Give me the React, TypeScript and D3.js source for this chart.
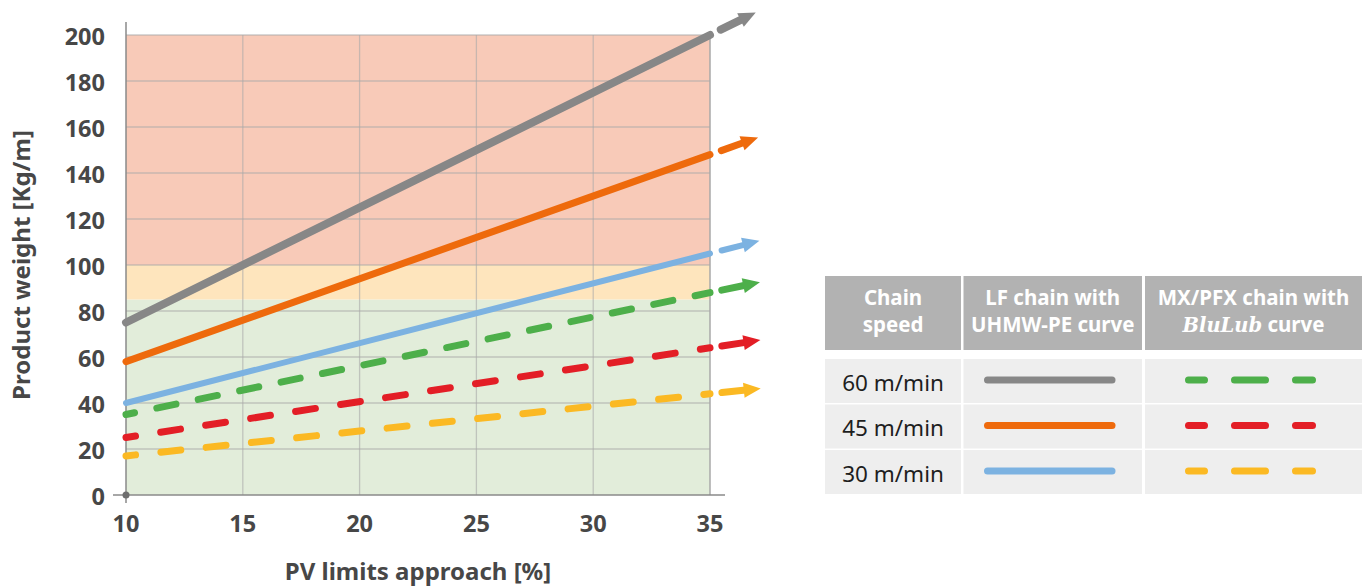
import React from "react";
import * as d3 from "d3";

// ---- data ----
const pvX = [10, 35];
const xTicks = [10, 15, 20, 25, 30, 35];
const yTicks = [0, 20, 40, 60, 80, 100, 120, 140, 160, 180, 200];
const lf60 = [75, 200];
const lf45 = [58, 148];
const lf30 = [40, 105];
const mx60 = [35, 88];
const mx45 = [25, 64];
const mx30 = [17, 44];
const zoneBounds = [0, 85, 100, 200];
const zoneColors = ["#E2EDDA", "#FEE5BD", "#F8CAB8"];
const speeds = ["60 m/min", "45 m/min", "30 m/min"];

const xLabel = "PV limits approach [%]";
const yLabel = "Product weight [Kg/m]";

const FONT = "'Noto Sans', sans-serif";

const series = [
  { values: lf60, color: "#878787", width: 8, dash: null as string | null, offset: 0 },
  { values: lf45, color: "#EE6A0C", width: 7, dash: null, offset: 0 },
  { values: lf30, color: "#7CB2E1", width: 6, dash: null, offset: 0 },
  { values: mx60, color: "#4DAF4A", width: 7, dash: "19.5 22.8", offset: 10.8 },
  { values: mx45, color: "#E31E26", width: 7, dash: "20 25.5", offset: 10.4 },
  { values: mx30, color: "#FBB923", width: 7, dash: "20 25.5", offset: 10.4 },
];

export default function App() {
  const x = d3.scaleLinear().domain([10, 35]).range([126, 710]);
  const y = d3.scaleLinear().domain([0, 200]).range([495, 35]);
  const line = d3
    .line<[number, number]>()
    .x((d) => x(d[0]))
    .y((d) => y(d[1]));

  const arrows = series.map((s) => {
    const p0 = [x(pvX[0]), y(s.values[0])];
    const p1 = [x(pvX[1]), y(s.values[1])];
    const dx = p1[0] - p0[0];
    const dy = p1[1] - p0[1];
    const len = Math.hypot(dx, dy);
    const u = [dx / len, dy / len];
    const n = [-u[1], u[0]];
    const at = (t: number) => [p1[0] + u[0] * t, p1[1] + u[1] * t];
    const a = at(12);
    const b = at(36);
    const base = at(34);
    const tip = at(51);
    const hw = 7.5;
    const head = [
      tip,
      [base[0] + n[0] * hw, base[1] + n[1] * hw],
      [base[0] - n[0] * hw, base[1] - n[1] * hw],
    ];
    return { a, b, head };
  });

  // legend layout
  const cols = [
    { x0: 825, w: 136 },
    { x0: 963.5, w: 178.5 },
    { x0: 1145, w: 217 },
  ];
  const rowTop = 359;
  const rowStep = 45.5;
  const rowH = 44;

  return (
    <svg
      width={1362}
      height={587}
      style={{ position: "absolute", left: 0, top: 0, background: "#fff" }}
      fontFamily={FONT}
    >
      {/* zones */}
      {zoneColors.map((c, i) => (
        <rect
          key={"z" + i}
          x={x(10)}
          width={x(35) - x(10)}
          y={y(zoneBounds[i + 1])}
          height={y(zoneBounds[i]) - y(zoneBounds[i + 1])}
          fill={c}
        />
      ))}
      {/* grid */}
      {yTicks
        .filter((t) => t > 0)
        .map((t) => (
          <line
            key={"gy" + t}
            x1={x(10)}
            x2={x(35)}
            y1={y(t)}
            y2={y(t)}
            stroke="#A8A8A8"
            strokeOpacity={0.6}
            strokeWidth={1.3}
          />
        ))}
      {xTicks
        .filter((t) => t > 10)
        .map((t) => (
          <line
            key={"gx" + t}
            x1={x(t)}
            x2={x(t)}
            y1={y(200)}
            y2={y(0)}
            stroke="#A8A8A8"
            strokeOpacity={t === 35 ? 0.75 : 0.6}
            strokeWidth={t === 35 ? 2 : 1.3}
          />
        ))}
      {/* axes */}
      <line x1={x(10)} x2={x(10)} y1={22} y2={503} stroke="#8A8A8A" strokeWidth={1.5} />
      <line x1={113} x2={725} y1={y(0)} y2={y(0)} stroke="#8A8A8A" strokeWidth={1.5} />
      <circle cx={x(10)} cy={y(0)} r={3.5} fill="#6E6E6E" />

      {/* tick labels */}
      {yTicks.map((t) => (
        <text
          key={"yl" + t}
          x={105}
          y={y(t) + 10}
          textAnchor="end"
          fontSize={23.5}
          fontWeight="bold"
          fill="#474747"
        >
          {t}
        </text>
      ))}
      {xTicks.map((t) => (
        <text
          key={"xl" + t}
          x={x(t)}
          y={532}
          textAnchor="middle"
          fontSize={23.5}
          fontWeight="bold"
          fill="#474747"
        >
          {t}
        </text>
      ))}
      <text
        x={418}
        y={580}
        textAnchor="middle"
        fontSize={24}
        fontWeight="bold"
        fill="#474747"
      >
        {xLabel}
      </text>
      <text
        transform={`translate(30,265) rotate(-90)`}
        textAnchor="middle"
        fontSize={24}
        fontWeight="bold"
        fill="#474747"
      >
        {yLabel}
      </text>

      {/* lines */}
      {series.map((s, i) => (
        <path
          key={"s" + i}
          d={line(pvX.map((v, j) => [v, s.values[j]] as [number, number])) || ""}
          fill="none"
          stroke={s.color}
          strokeWidth={s.width}
          strokeLinecap="round"
          strokeDasharray={s.dash || undefined}
          strokeDashoffset={s.dash ? s.offset : undefined}
        />
      ))}
      {/* arrows */}
      {series.map((s, i) => {
        const a = arrows[i];
        return (
          <g key={"a" + i}>
            <line
              x1={a.a[0]}
              y1={a.a[1]}
              x2={a.b[0]}
              y2={a.b[1]}
              stroke={s.color}
              strokeWidth={s.width}
              strokeLinecap="round"
            />
            <polygon points={a.head.map((p) => p.join(",")).join(" ")} fill={s.color} />
          </g>
        );
      })}

      {/* legend table */}
      {cols.map((c, i) => (
        <rect key={"h" + i} x={c.x0} y={276} width={c.w} height={74} fill="#B2B2B2" />
      ))}
      <g fill="#fff" fontWeight="bold" fontSize={20.5} textAnchor="middle">
        <text x={cols[0].x0 + cols[0].w / 2} y={305}>Chain</text>
        <text x={cols[0].x0 + cols[0].w / 2} y={332}>speed</text>
        <text x={cols[1].x0 + cols[1].w / 2} y={305}>LF chain with</text>
        <text x={cols[1].x0 + cols[1].w / 2} y={332}>UHMW-PE curve</text>
        <text x={cols[2].x0 + cols[2].w / 2} y={305}>MX/PFX chain with</text>
        <text x={cols[2].x0 + cols[2].w / 2} y={332}>
          <tspan fontFamily="'DejaVu Serif', serif" fontStyle="italic" fontWeight="bold" fontSize={19.5}>
            BluLub
          </tspan>
          <tspan> curve</tspan>
        </text>
      </g>
      {speeds.map((sp, r) => {
        const top = rowTop + r * rowStep;
        const cy = top + rowH / 2;
        const solid = series[r];
        const dashed = series[r + 3];
        return (
          <g key={"r" + r}>
            {cols.map((c, i) => (
              <rect key={i} x={c.x0} y={top} width={c.w} height={rowH} fill="#EEEEEE" />
            ))}
            <text
              x={cols[0].x0 + cols[0].w / 2}
              y={cy + 9.5}
              textAnchor="middle"
              fontSize={22.5}
              fill="#1E1E1E"
            >
              {sp}
            </text>
            <line
              x1={987.5}
              x2={1112}
              y1={cy - 1}
              y2={cy - 1}
              stroke={solid.color}
              strokeWidth={7}
              strokeLinecap="round"
            />
            <line
              x1={1188.5}
              x2={1312.5}
              y1={cy - 1}
              y2={cy - 1}
              stroke={dashed.color}
              strokeWidth={7}
              strokeLinecap="round"
              strokeDasharray="31 30"
              strokeDashoffset={15}
            />
          </g>
        );
      })}
    </svg>
  );
}
